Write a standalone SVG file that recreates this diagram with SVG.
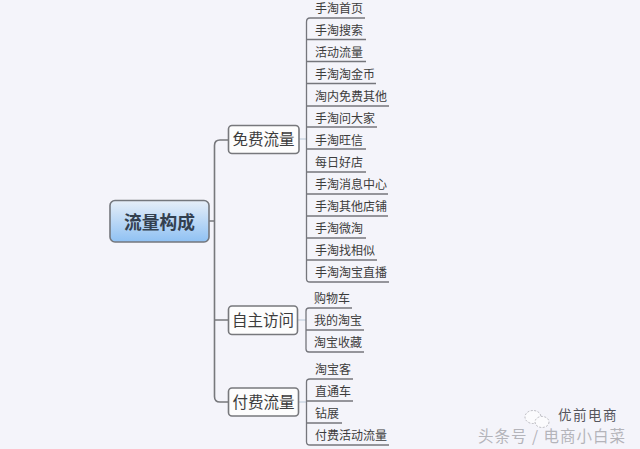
<svg xmlns="http://www.w3.org/2000/svg" width="640" height="449" viewBox="0 0 640 449">
<style>
text{font-family:"Noto Sans CJK SC","Liberation Sans",sans-serif;fill:#3c3c3c}
.l{font-size:12px}
.b{font-size:15.500px;text-anchor:middle}
.box{fill:#fdfdfd;stroke:#77787c;stroke-width:1.6}
.c{fill:none;stroke:#75767c;stroke-width:1.3}
.t{fill:none;stroke:#77787c;stroke-width:1.6}
.s{fill:none;stroke:#ccd6e4;stroke-width:1.5}
.w{fill:#b4b4ba;font-size:15.500px;letter-spacing:1px}
.i{fill:#fbfbfd;stroke:#a9a9b0;stroke-width:0.8;stroke-dasharray:2 1.5}
</style>
<defs><linearGradient id="g" x1="0" y1="0" x2="0" y2="1"><stop offset="0" stop-color="#e6eef8"/><stop offset="1" stop-color="#8fc1f3"/></linearGradient></defs>
<rect width="640" height="449" fill="#f4f4fa"/>
<g id="connectors">
<path class="t" d="M209 221H214.500M228 140H220Q214.500 140 214.500 145.500V396.500Q214.500 402 220 402H228M214.500 320H228"/>
<path class="s" d="M299 139H306M298 320H306M299 402H306"/>
<path class="c" d="M365 18H310Q306.500 18 306.500 22V279Q306.500 282 310 282H389M306.500 39.500H366M306.500 61.500H366M306.500 83.500H376M306.500 106H389M306.500 127H377M306.500 149H366M306.500 172H366M306.500 194H388M306.500 216H388M306.500 238H366M306.500 260H377"/>
<path class="c" d="M352 308H309Q306 308 306 311V349Q306 352 309 352H364M306 330H364"/>
<path class="c" d="M353 379H310Q306.500 379 306.500 382V442Q306.500 445 310 445H389M306.500 401H353M306.500 423H342"/>
</g>
<g id="root"><rect x="110" y="200.500" width="99" height="41.500" rx="5" fill="url(#g)" stroke="#74777d" stroke-width="1.600"/><text x="159.500" y="228.500" font-size="17.700" font-weight="700" text-anchor="middle" style="fill:#33404f">流量构成</text></g>
<g id="free"><rect class="box" x="228.500" y="125.500" width="70.500" height="28" rx="3.500"/><text class="b" x="263.500" y="145">免费流量</text></g>
<g id="self"><rect class="box" x="228.500" y="306" width="69" height="28.500" rx="3.500"/><text class="b" x="263" y="326">自主访问</text></g>
<g id="paid"><rect class="box" x="228.500" y="388" width="70" height="28" rx="3.500"/><text class="b" x="263.500" y="408">付费流量</text></g>
<g id="free-items">
<text class="l" x="315" y="13">手淘首页</text>
<text class="l" x="315" y="35">手淘搜索</text>
<text class="l" x="315" y="57">活动流量</text>
<text class="l" x="315" y="79">手淘淘金币</text>
<text class="l" x="315" y="101">淘内免费其他</text>
<text class="l" x="315" y="123">手淘问大家</text>
<text class="l" x="315" y="145">手淘旺信</text>
<text class="l" x="315" y="167">每日好店</text>
<text class="l" x="315" y="189">手淘消息中心</text>
<text class="l" x="315" y="211">手淘其他店铺</text>
<text class="l" x="315" y="233">手淘微淘</text>
<text class="l" x="315" y="255">手淘找相似</text>
<text class="l" x="315" y="277">手淘淘宝直播</text>
</g>
<g id="self-items">
<text class="l" x="314" y="303">购物车</text>
<text class="l" x="314" y="325">我的淘宝</text>
<text class="l" x="314" y="347">淘宝收藏</text>
</g>
<g id="paid-items">
<text class="l" x="315" y="374">淘宝客</text>
<text class="l" x="315" y="396">直通车</text>
<text class="l" x="315" y="418">钻展</text>
<text class="l" x="315" y="440">付费活动流量</text>
</g>
<g id="watermark">
<ellipse class="i" cx="533" cy="417" rx="8" ry="6.500"/>
<ellipse class="i" cx="542" cy="422" rx="7" ry="5.500"/>
<text x="558" y="420" font-size="13.500" letter-spacing="1.500" style="fill:#55555c">优前电商</text>
<text class="w" x="478" y="442">头条号 / 电商小白菜</text>
</g>
</svg>
